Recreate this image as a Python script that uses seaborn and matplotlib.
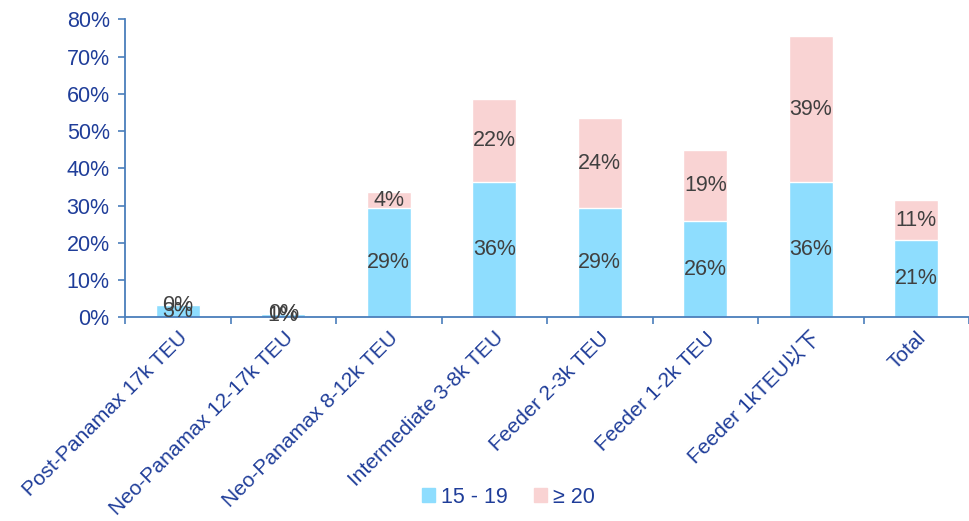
import numpy as np
import pandas as pd
import matplotlib
matplotlib.use('Agg')
import matplotlib.pyplot as plt
import seaborn as sns
from matplotlib.patches import Patch
from matplotlib.ticker import PercentFormatter, FixedLocator

categories = ['Post-Panamax 17k TEU', 'Neo-Panamax 12-17k TEU', 'Neo-Panamax 8-12k TEU',
              'Intermediate 3-8k TEU', 'Feeder 2-3k TEU', 'Feeder 1-2k TEU',
              'Feeder 1kTEU以下', 'Total']
age_15_19 = [3.2, 0.9, 29.3, 36.2, 29.3, 25.8, 36.2, 20.7]
age_20_plus = [0.0, 0.0, 4.3, 22.4, 24.1, 19.0, 39.3, 10.7]
series_names = ['15 - 19', '≥ 20']

blue = '#8EDDFE'
pink = '#F9D3D3'
axis_blue = '#1F3D99'
line_col = '#4A7EBB'
label_col = '#404040'

sns.set_theme(style='white')
plt.rcParams['font.family'] = ['Liberation Sans', 'Noto Sans CJK SC', 'DejaVu Sans']

df = pd.DataFrame({'cat': categories, 'low': age_15_19, 'high': age_20_plus})
df['total'] = df['low'] + df['high']

fig, ax = plt.subplots(figsize=(9.69, 5.21), dpi=100)
fig.subplots_adjust(left=0.129, right=1.0, top=0.963, bottom=0.391)

sns.barplot(data=df, x='cat', y='total', color=pink, width=0.42, saturation=1, ax=ax)
sns.barplot(data=df, x='cat', y='low', color=blue, width=0.42, saturation=1, ax=ax)

# 数据标签（放在每段中间）
for i, row in df.iterrows():
    ax.text(i, row['low'] / 2, f"{row['low']:.0f}%", ha='center', va='center',
            fontsize=15.5, color=label_col)
    ax.text(i, row['low'] + row['high'] / 2, f"{row['high']:.0f}%", ha='center', va='center',
            fontsize=15.5, color=label_col)

ax.set_ylim(0, 80)
ax.set_xlim(-0.5, len(categories) - 0.5)
ax.yaxis.set_major_formatter(PercentFormatter(decimals=0))
ax.set_yticks(np.arange(0, 81, 10))
ax.set_xlabel('')
ax.set_ylabel('')

for s in ['top', 'right']:
    ax.spines[s].set_visible(False)
for s in ['left', 'bottom']:
    ax.spines[s].set_color(line_col)
    ax.spines[s].set_linewidth(1.3)

ax.tick_params(axis='y', colors=line_col, labelcolor=axis_blue, labelsize=15.5,
               length=5, width=1.2, left=True, direction='out', pad=6)
ax.tick_params(axis='x', which='major', length=0, labelcolor=axis_blue, labelsize=15, pad=8)
ax.xaxis.set_minor_locator(FixedLocator(np.arange(-0.5, len(categories), 1.0)))
ax.tick_params(axis='x', which='minor', length=5, width=1.2, colors=line_col, bottom=True)
plt.setp(ax.get_xticklabels(), rotation=45, ha='right', rotation_mode='anchor')

handles = [Patch(color=blue), Patch(color=pink)]
fig.legend(handles, series_names, loc='lower center', bbox_to_anchor=(0.525, -0.012),
           ncol=2, frameon=False, fontsize=15.5, handlelength=0.6, handleheight=0.6,
           columnspacing=1.2, handletextpad=0.3, labelcolor=axis_blue)

fig.savefig('out.png', dpi=100)
